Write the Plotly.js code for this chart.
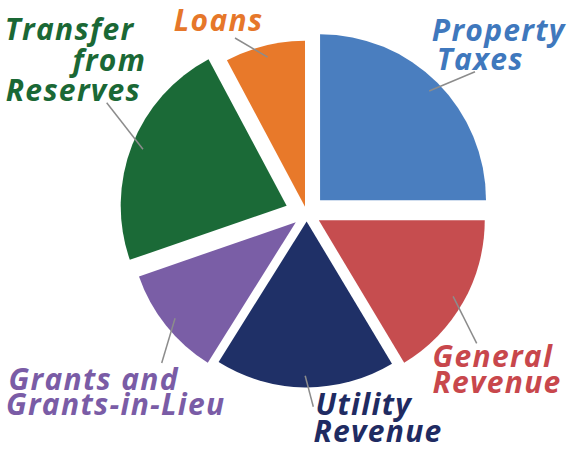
<!DOCTYPE html>
<html>
<head>
<meta charset="utf-8">
<script src="https://cdn.plot.ly/plotly-3.0.1.min.js"></script>
<style>
html,body{margin:0;padding:0;background:#fff;}
#chart{width:572px;height:450px;}
#chart .annotation-text{letter-spacing:1.3px;}
</style>
</head>
<body>
<div id="chart"></div>
<script>
// ---- data ----
const categories = ["Property Taxes", "General Revenue", "Utility Revenue", "Grants and Grants-in-Lieu", "Transfer from Reserves", "Loans"];
const shares = [25, 16.4, 17.5, 10.8, 22.5, 7.8];
const labelLines = [["Property", "Taxes"], ["General", "Revenue"], ["Utility", "Revenue"], ["Grants and", "Grants-in-Lieu"], ["Transfer", "from", "Reserves"], ["Loans"]];

// ---- styles / layout ----
const sliceColors = ["#4a7ebf", "#c64d4f", "#1f3067", "#7a5ea6", "#1b6a37", "#e8792a"];
const textColors = ["#3f78bd", "#c8474c", "#1f2b62", "#7a5ca6", "#1a6835", "#e6772a"];
const pulls = [0.114, 0.084, 0.048, 0.084, 0.13, 0.042];
const W = 572, H = 450;
const domX = [0.2084, 0.8640], domY = [0.1089, 0.9422];
// label line positions in px: [left x, vertical middle y]
const labelPos = [
  [[435, 30], [438, 58.4]],
  [[435, 355], [435, 381.7]],
  [[318, 403.4], [316, 430.4]],
  [[13, 378.4], [13, 403.4]],
  [[8, 28.4], [69, 60], [9, 90]],
  [[175, 20]]
];
// outer end of leader lines, px
const leaderEnd = [[475, 71.7], [476.7, 343.3], [313.3, 406.7], [161.7, 363], [106.7, 102.7], [235, 38]];
const fontSize = 30;

// pie geometry as Plotly computes it
const boxW = W * (domX[1] - domX[0]), boxH = H * (domY[1] - domY[0]);
const maxPull = Math.max(...pulls);
const r = Math.min(boxW, boxH) / (2 + 2 * maxPull);
const cx = W * (domX[0] + domX[1]) / 2;
const cy = H * (1 - domY[0]) - boxH / 2;
const total = shares.reduce((a, b) => a + b, 0);

const annotations = [];
const shapes = [];
let cum = 0;
shares.forEach((v, i) => {
  const mid = (cum + v / 2) / total * 2 * Math.PI;
  cum += v;
  const rr = (pulls[i] + 0.93) * r;
  const ax = cx + rr * Math.sin(mid), ay = cy - rr * Math.cos(mid);
  shapes.push({
    type: "line", xref: "paper", yref: "paper",
    x0: ax / W, y0: 1 - ay / H, x1: leaderEnd[i][0] / W, y1: 1 - leaderEnd[i][1] / H,
    line: {color: "#8c8c8c", width: 1.5}
  });
  labelLines[i].forEach((t, j) => {
    annotations.push({
      text: t, xref: "paper", yref: "paper",
      x: labelPos[i][j][0] / W, y: 1 - labelPos[i][j][1] / H,
      xanchor: "left", yanchor: "middle", showarrow: false,
      font: {family: "Open Sans", size: fontSize, color: textColors[i], weight: "bold", style: "italic"}
    });
  });
});

const trace = {
  type: "pie",
  labels: categories,
  values: shares,
  sort: false,
  direction: "clockwise",
  rotation: 0,
  pull: pulls,
  marker: {colors: sliceColors, line: {width: 0}},
  textinfo: "none",
  hoverinfo: "label+percent",
  showlegend: false,
  domain: {x: domX, y: domY}
};

Plotly.newPlot("chart", [trace], {
  width: W, height: H,
  margin: {l: 0, r: 0, t: 0, b: 0},
  paper_bgcolor: "#ffffff",
  showlegend: false,
  annotations: annotations,
  shapes: shapes
}, {displayModeBar: false, staticPlot: true});
</script>
</body>
</html>
